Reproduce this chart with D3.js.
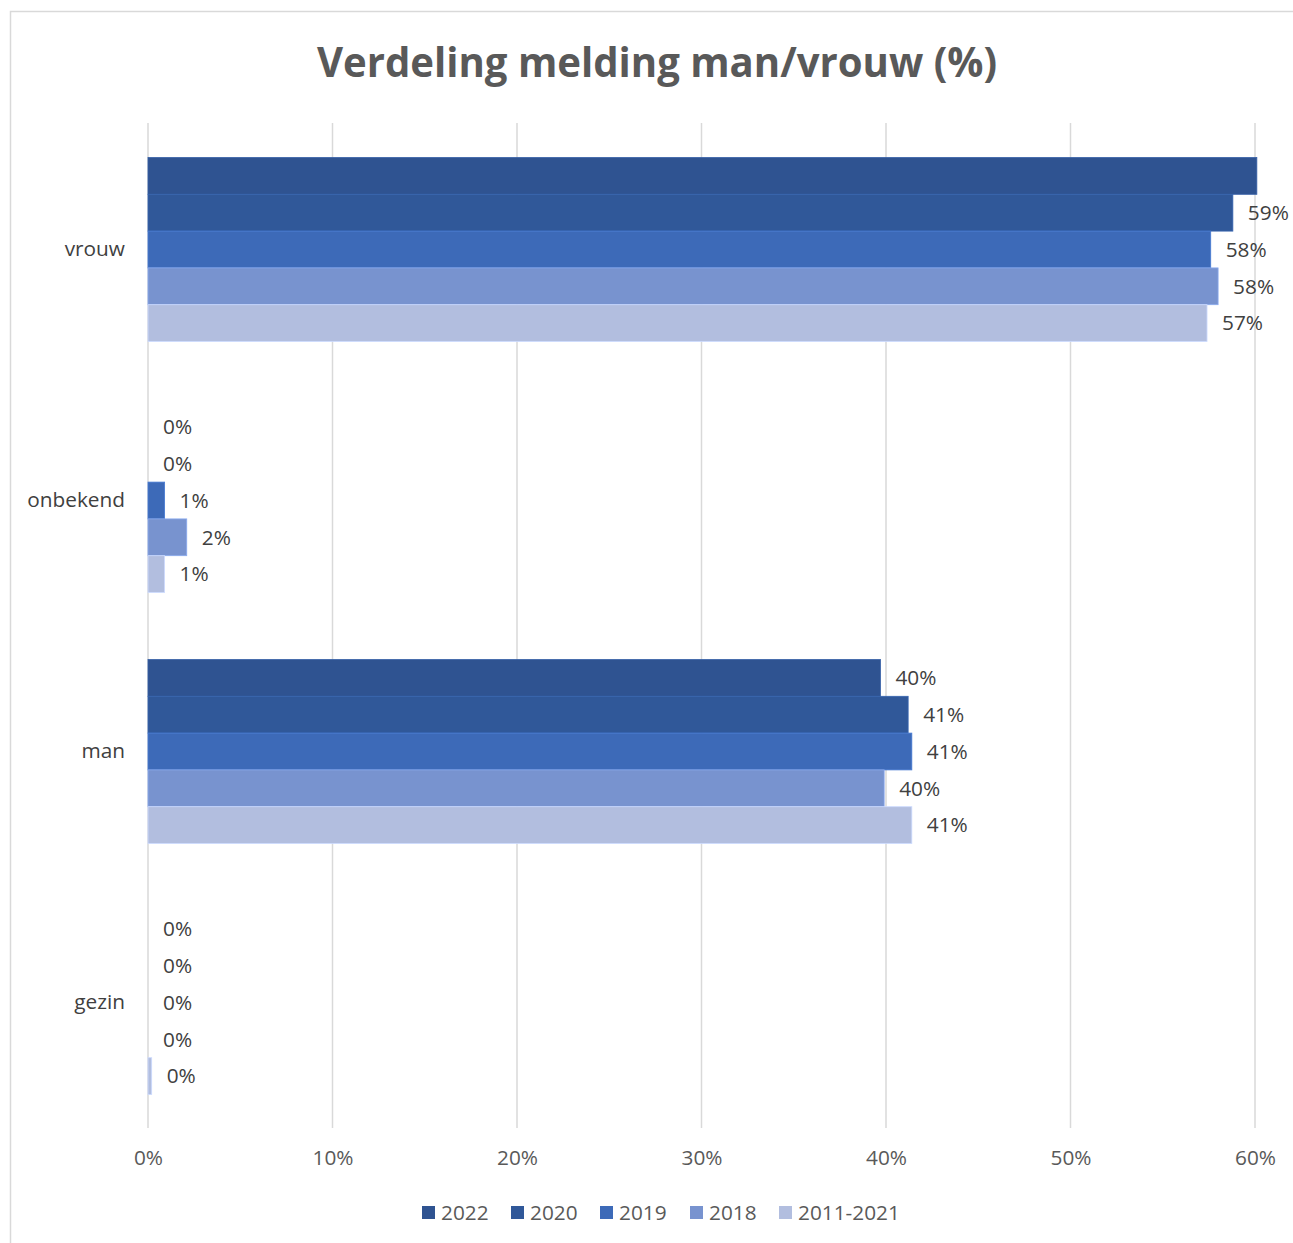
<!DOCTYPE html>
<html>
<head>
<meta charset="utf-8">
<script src="https://cdn.jsdelivr.net/npm/d3@7.9.0/dist/d3.min.js"></script>
<style>
  body { margin: 0; background: #fff; }
  svg text { font-family: "Open Sans", "Noto Sans", sans-serif; }
</style>
</head>
<body>
<svg id="chart" width="1293" height="1243"></svg>
<script>
// categories top to bottom, series in legend order
const categories = ['vrouw', 'onbekend', 'man', 'gezin'];
const seriesNames = ['2022', '2020', '2019', '2018', '2011-2021'];
const values2022 = [60.1, 0, 39.7, 0];
const values2020 = [58.8, 0, 41.2, 0];
const values2019 = [57.6, 0.9, 41.4, 0];
const values2018 = [58.0, 2.1, 39.9, 0];
const values2011_2021 = [57.4, 0.9, 41.4, 0.2];
const xTicks = [0, 10, 20, 30, 40, 50, 60];
const colors = ['#2f5391', '#305899', '#3d6ab8', '#7893cf', '#b2bedf'];

const seriesValues = [values2022, values2020, values2019, values2018, values2011_2021];
const fs = 20.8;

const svg = d3.select('#chart');

// outer frame
svg.append('rect')
  .attr('x', 10.5).attr('y', 11.5)
  .attr('width', 1300).attr('height', 1300)
  .attr('fill', 'none')
  .attr('stroke', '#d9d9d9')
  .attr('stroke-width', 1.5);

svg.append('text')
  .attr('x', 657).attr('y', 77)
  .attr('text-anchor', 'middle')
  .attr('font-size', 42)
  .attr('font-weight', 'bold')
  .attr('fill', '#595959')
  .attr('textLength', 680)
  .attr('lengthAdjust', 'spacingAndGlyphs')
  .text('Verdeling melding man/vrouw (%)');

const x = d3.scaleLinear().domain([0, 60]).range([148, 1255]);
const y = d3.scaleBand().domain(categories).range([124, 1128])
  .paddingInner(0.267).paddingOuter(0.1335);
const ySub = d3.scaleBand().domain(seriesNames).range([0, y.bandwidth()]);

// gridlines
svg.append('g')
  .selectAll('line')
  .data(xTicks)
  .join('line')
  .attr('x1', (d) => x(d)).attr('x2', (d) => x(d))
  .attr('y1', 123).attr('y2', 1128)
  .attr('stroke', '#d9d9d9')
  .attr('stroke-width', 1.5);

// x tick labels
const xAxis = d3.axisBottom(x).tickValues(xTicks).tickFormat((d) => d + '%').tickSize(0);
const gx = svg.append('g').attr('transform', 'translate(0,1147)').call(xAxis);
gx.select('.domain').remove();
gx.selectAll('text')
  .attr('font-size', fs)
  .attr('fill', '#595959')
  .attr('font-family', '"Open Sans", sans-serif');

// category labels
const yAxis = d3.axisLeft(y).tickSize(0).tickPadding(0);
const gy = svg.append('g').attr('transform', 'translate(125,0)').call(yAxis);
gy.select('.domain').remove();
gy.selectAll('text')
  .attr('font-size', fs)
  .attr('fill', '#404040')
  .attr('font-family', '"Open Sans", sans-serif');

// bars
seriesNames.forEach((name, si) => {
  const g = svg.append('g');
  const rows = categories.map((c, ci) => ({ cat: c, value: seriesValues[si][ci] }));

  g.selectAll('rect')
    .data(rows)
    .join('rect')
    .attr('x', x(0))
    .attr('y', (d) => y(d.cat) + ySub(name))
    .attr('width', (d) => x(d.value) - x(0))
    .attr('height', ySub.bandwidth())
    .attr('fill', colors[si])
    .attr('stroke', d3.color(colors[si]).brighter(0.4))
    .attr('stroke-width', 0.8);

  // labels past the 60% edge are clipped in the original
  g.selectAll('text')
    .data(rows.filter((d) => d.value <= 60))
    .join('text')
    .attr('x', (d) => x(d.value) + 15)
    .attr('y', (d) => y(d.cat) + ySub(name) + ySub.bandwidth() / 2)
    .attr('dy', '0.35em')
    .attr('font-size', fs)
    .attr('fill', '#404040')
    .text((d) => Math.round(d.value) + '%');
});

// legend
const legendX = [422, 511, 600, 690, 779];
const legend = svg.append('g');
seriesNames.forEach((name, i) => {
  legend.append('rect')
    .attr('x', legendX[i]).attr('y', 1206)
    .attr('width', 13).attr('height', 13)
    .attr('fill', colors[i]);
  legend.append('text')
    .attr('x', legendX[i] + 19).attr('y', 1213)
    .attr('dy', '0.35em')
    .attr('font-size', fs)
    .attr('fill', '#595959')
    .text(name);
});
</script>
</body>
</html>
